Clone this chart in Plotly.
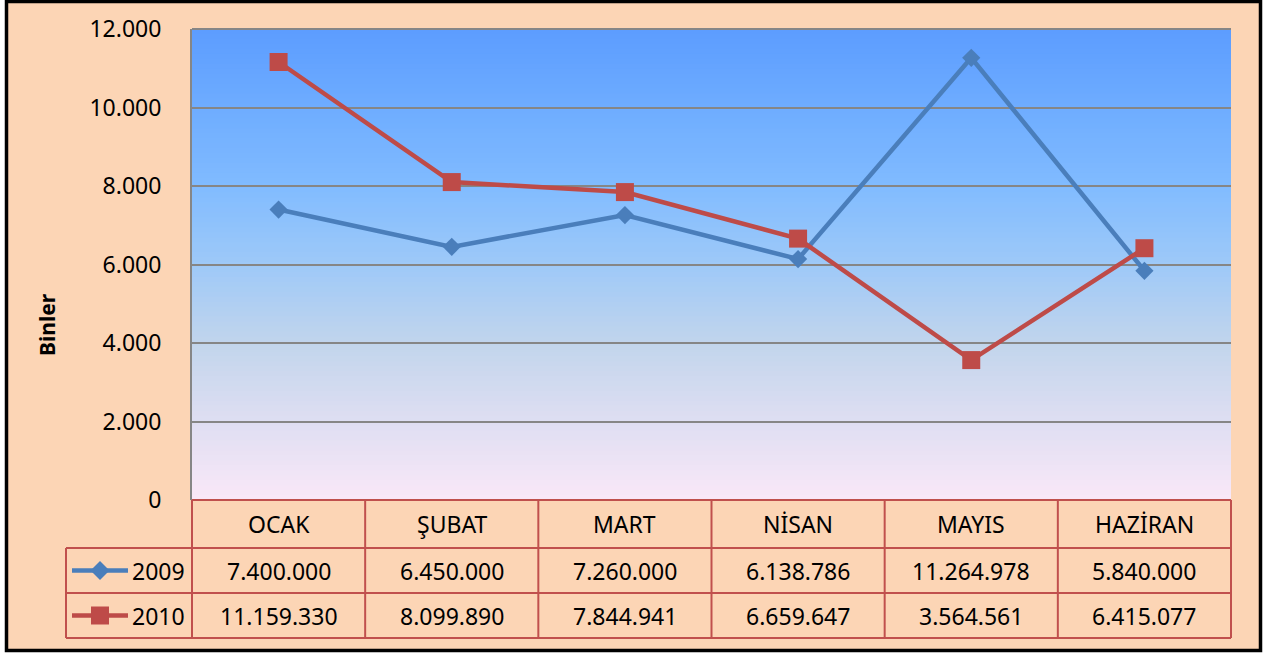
import plotly.graph_objects as go

# data (TL), plotted in thousands ("Binler")
months = ["OCAK", "ŞUBAT", "MART", "NİSAN", "MAYIS", "HAZİRAN"]
series_names = ["2009", "2010"]
values_2009 = [7400000, 6450000, 7260000, 6138786, 11264978, 5840000]
values_2010 = [11159330, 8099890, 7844941, 6659647, 3564561, 6415077]
y_ticks = [0, 2000, 4000, 6000, 8000, 10000, 12000]

W, H = 1270, 657
L, R, T, B = 192, 39, 29, 157
PW, PH = W - L - R, H - T - B

BLUE = "#4A7EBB"
RED = "#BE4B48"
PEACH = "#FCD5B5"
TABLE_LINE = "#C0504D"
FONT = "Noto Sans"


def px(x):
    return (x - L) / PW


def py(y):
    return (T + PH - y) / PH


def fmt(v):
    return f"{v:,}".replace(",", ".")


fig = go.Figure()

for name, vals, color, symbol, size in [
    ("2009", values_2009, BLUE, "diamond", 14),
    ("2010", values_2010, RED, "square", 18),
]:
    fig.add_trace(go.Scatter(
        x=months,
        y=[v / 1000 for v in vals],
        mode="lines+markers",
        name=name,
        line=dict(color=color, width=4.5),
        marker=dict(symbol=symbol, size=size, color=color, line=dict(width=0)),
        cliponaxis=False,
    ))

shapes = []
# outer frame
shapes.append(dict(type="rect", xref="paper", yref="paper",
                   x0=px(6.5), x1=px(1260.5), y0=py(650.5), y1=py(1.5),
                   line=dict(color="black", width=3.5), fillcolor=PEACH, layer="below"))

# plot area vertical gradient
stops = [(0.0, (92, 157, 255)), (0.33, (128, 187, 255)), (0.5, (158, 201, 248)),
         (0.67, (194, 213, 236)), (0.83, (222, 222, 242)), (1.0, (250, 232, 248))]


def grad(t):
    for (t0, c0), (t1, c1) in zip(stops[:-1], stops[1:]):
        if t <= t1:
            f = (t - t0) / (t1 - t0)
            return "rgb(%d,%d,%d)" % tuple(round(a + (b - a) * f) for a, b in zip(c0, c1))
    return "rgb(%d,%d,%d)" % stops[-1][1]


n = 95
for i in range(n):
    t = (i + 0.5) / n
    shapes.append(dict(type="rect", xref="paper", yref="paper",
                       x0=0, x1=1, y0=max(0, 1 - (i + 2) / n), y1=1 - i / n,
                       line=dict(width=0), fillcolor=grad(t), layer="below"))

# top border of the plot area
shapes.append(dict(type="line", xref="paper", yref="paper", x0=0, x1=1, y0=1, y1=1,
                   line=dict(color="#868686", width=2)))

# data table
row_y = [500, 548, 593, 638]
col_x = [L + PW * i / len(months) for i in range(len(months) + 1)]
key_left = 66
tl = dict(color=TABLE_LINE, width=2)
shapes.append(dict(type="line", xref="paper", yref="paper",
                   x0=0, x1=1, y0=py(row_y[0]), y1=py(row_y[0]), line=tl))
for yy in row_y[1:]:
    shapes.append(dict(type="line", xref="paper", yref="paper",
                       x0=px(key_left), x1=1, y0=py(yy), y1=py(yy), line=tl))
for xx in col_x:
    shapes.append(dict(type="line", xref="paper", yref="paper",
                       x0=px(xx), x1=px(xx), y0=py(row_y[0]), y1=py(row_y[-1]), line=tl))
shapes.append(dict(type="line", xref="paper", yref="paper",
                   x0=px(key_left), x1=px(key_left), y0=py(row_y[1]), y1=py(row_y[-1]), line=tl))

annotations = []
txt = dict(family=FONT, size=23, color="black")
hdr_c = (row_y[0] + row_y[1]) / 2
for i, m in enumerate(months):
    cx = (col_x[i] + col_x[i + 1]) / 2
    annotations.append(dict(xref="paper", yref="paper", x=px(cx), y=py(hdr_c),
                            xanchor="center", yanchor="middle",
                            text=m, showarrow=False, font=txt))

for r, (name, vals, color) in enumerate([("2009", values_2009, BLUE), ("2010", values_2010, RED)]):
    cy = (row_y[r + 1] + row_y[r + 2]) / 2
    for i, v in enumerate(vals):
        cx = (col_x[i] + col_x[i + 1]) / 2
        annotations.append(dict(xref="paper", yref="paper", x=px(cx), y=py(cy),
                                xanchor="center", yanchor="middle",
                                text=fmt(v), showarrow=False, font=txt))
    # legend key
    annotations.append(dict(xref="paper", yref="paper", x=px(187), y=py(cy),
                            xanchor="right", yanchor="middle",
                            text=name, showarrow=False, font=txt))
    shapes.append(dict(type="line", xref="paper", yref="paper",
                       x0=px(72), x1=px(128), y0=py(cy), y1=py(cy),
                       line=dict(color=color, width=4.5)))
    mx = 100
    if r == 0:
        d = 9.5
        path = "M%f,%f L%f,%f L%f,%f L%f,%f Z" % (
            px(mx - d), py(cy), px(mx), py(cy - d), px(mx + d), py(cy), px(mx), py(cy + d))
    else:
        d = 9
        path = "M%f,%f L%f,%f L%f,%f L%f,%f Z" % (
            px(mx - d), py(cy - d), px(mx + d), py(cy - d), px(mx + d), py(cy + d), px(mx - d), py(cy + d))
    shapes.append(dict(type="path", xref="paper", yref="paper", path=path,
                       fillcolor=color, line=dict(width=0)))

annotations.append(dict(xref="paper", yref="paper", x=px(47), y=py(325), textangle=-90,
                        xanchor="center", yanchor="middle",
                        text="<b>Binler</b>", showarrow=False,
                        font=dict(family=FONT, size=21, color="black")))

fig.update_layout(
    width=W, height=H,
    margin=dict(l=L, r=R, t=T, b=B),
    paper_bgcolor="white",
    plot_bgcolor=PEACH,
    separators=",.",
    showlegend=False,
    font=dict(family=FONT, size=23, color="black"),
    shapes=shapes,
    annotations=annotations,
    xaxis=dict(type="category", range=[-0.5, len(months) - 0.5], showgrid=False,
               showticklabels=False, zeroline=False, showline=False, ticks=""),
    yaxis=dict(range=[0, 12000], tickvals=y_ticks, tickformat=",d",
               showgrid=True, gridcolor="#868686", gridwidth=2,
               zeroline=False, showline=True, linecolor="#868686", linewidth=2,
               ticks="outside", ticklen=24, tickcolor="rgba(0,0,0,0)",
               tickfont=dict(family=FONT, size=23, color="black")),
)

fig.write_html("out.html", config={"displayModeBar": False},
               post_script="document.body.style.margin='0';")
